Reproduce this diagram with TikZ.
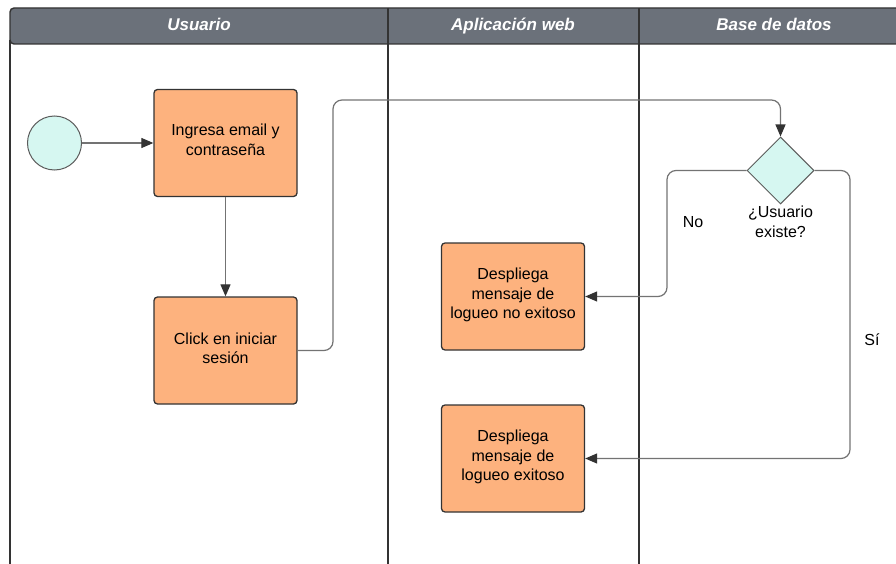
\documentclass[tikz,border=0pt]{standalone}
\usepackage{fontspec}
\setmainfont{Liberation Sans}
\usetikzlibrary{shapes.geometric,arrows.meta}
\definecolor{hdr}{HTML}{6B717A}
\definecolor{taskfill}{HTML}{FDB27E}
\definecolor{mint}{HTML}{D6F7F1}
\definecolor{edge}{HTML}{333333}
\definecolor{flow}{HTML}{737373}
\begin{document}
\begin{tikzpicture}[x=1pt,y=-1pt,
  lane/.style={draw=edge,line width=1.4pt},
  hdrtext/.style={text=white,font=\fontsize{17}{20}\selectfont\bfseries\itshape,
    text height=12.5pt,text depth=3.5pt},
  txt/.style={font=\fontsize{16}{19.5}\selectfont,align=center},
  taskbox/.style={txt,draw=edge,line width=1.3pt,fill=taskfill,rounded corners=3.5pt,
    minimum width=143pt,minimum height=107pt,inner sep=2pt},
  startev/.style={circle,draw=edge!80,line width=1pt,fill=mint,minimum size=54pt,inner sep=0pt},
  gateway/.style={diamond,draw=edge!80,line width=1pt,fill=mint,minimum width=67pt,minimum height=67pt,inner sep=0pt},
  flowline/.style={draw=flow,line width=1.2pt,rounded corners=9pt,
    -{Triangle[length=12pt,width=10pt,color=edge]}}
]
\useasboundingbox (0,0) rectangle (896,564);
\begin{scope}
  \clip (0,0) rectangle (896,564);
  % swimlane header band and lane borders
  \filldraw[fill=hdr,draw=edge,line width=1.4pt,rounded corners=4pt]
    (10,44) -- (10,8) -- (920,8) -- (920,44) -- cycle;
  \draw[lane] (10,40) -- (10,570);
  \draw[lane] (388,8) -- (388,570);
  \draw[lane] (639,8) -- (639,570);
\end{scope}

\node[hdrtext] (hU) at (199,26.5) {Usuario};
\node[hdrtext] (hA) at (513,26.5) {Aplicación web};
\node[hdrtext] (hB) at (774,26.5) {Base de datos};

% flow objects
\node[startev] (start) at (54.5,143) {};
\node[taskbox] (ingresa) at (225.5,143) {Ingresa email y\\contraseña\vphantom{p}\vspace{3pt}};
\node[taskbox] (click) at (225.5,350.5) {Click en iniciar\\sesión\vspace{4pt}};
\node[taskbox] (fallo) at (513,296.5) {Despliega\\mensaje de\\logueo no exitoso\vspace{3pt}};
\node[taskbox] (exito) at (513,458.5) {Despliega\\mensaje de\\logueo exitoso\vspace{3pt}};
\node[gateway] (existe) at (780.5,170.5) {};
\node[txt] (existeq) at (780.5,222) {¿Usuario\\existe?};
\node[txt] (lblno) at (693,222) {No};
\node[txt] (lblsi) at (872,340) {Sí};

% sequence flows
\draw[flowline] (start) -- (ingresa);
\draw[flowline] (ingresa) -- (click);
\draw[flowline] (click.east) -- (333,350.5) -- (333,100) -- (780.5,100) -- (existe.north);
\draw[flowline] (existe.west) -- (667,170.5) -- (667,296.5) -- (fallo.east);
\draw[flowline] (existe.east) -- (850,170.5) -- (850,458.5) -- (exito.east);
\end{tikzpicture}
\end{document}
